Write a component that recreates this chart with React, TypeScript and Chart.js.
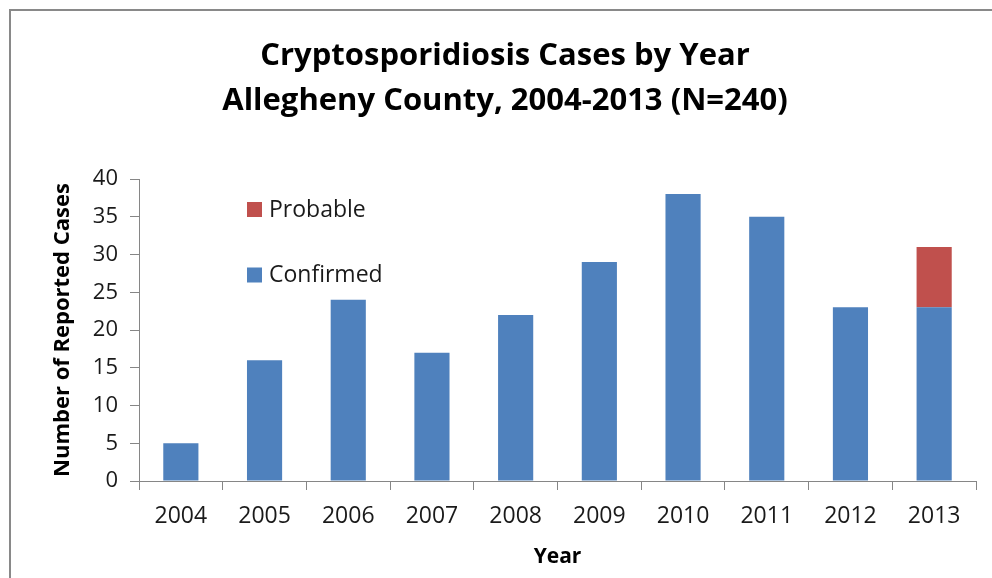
import React, { useEffect, useRef } from "react";
import { Chart, registerables } from "chart.js";

Chart.register(...registerables);

const years = ["2004", "2005", "2006", "2007", "2008", "2009", "2010", "2011", "2012", "2013"];
const confirmed = [5, 16, 24, 17, 22, 29, 38, 35, 23, 23];
const probable = [0, 0, 0, 0, 0, 0, 0, 0, 0, 8];
const titleLines = ["Cryptosporidiosis Cases by Year", "Allegheny County, 2004-2013 (N=240)"];
const yTitle = "Number of Reported Cases";
const xTitle = "Year";
const legendItems = [
  { label: "Probable", color: "#c0504d" },
  { label: "Confirmed", color: "#4f81bd" },
];

const FONT = "'Open Sans', 'Liberation Sans', sans-serif";
const TEXT = "#1a1a1a";
const AXIS = "#868686";

const titlePlugin = {
  id: "offsetTitle",
  afterDraw(chart: any) {
    const { ctx } = chart;
    ctx.save();
    ctx.font = `bold 31px ${FONT}`;
    ctx.fillStyle = "#000";
    ctx.textAlign = "center";
    ctx.textBaseline = "middle";
    titleLines.forEach((line, i) => {
      ctx.fillText(line, 505, 56.5 + i * 45);
    });
    ctx.restore();
  },
};

const legendPlugin = {
  id: "insideLegend",
  afterDraw(chart: any) {
    const { ctx, chartArea } = chart;
    ctx.save();
    ctx.font = `23px ${FONT}`;
    ctx.textBaseline = "middle";
    ctx.textAlign = "left";
    legendItems.forEach((item, i) => {
      const x = chartArea.left + 108;
      const y = chartArea.top + 30 + i * 65.5;
      ctx.fillStyle = item.color;
      ctx.fillRect(x, y - 7, 15, 15);
      ctx.fillStyle = TEXT;
      ctx.fillText(item.label, x + 22, y + 1);
    });
    ctx.restore();
  },
};

export default function App() {
  const ref = useRef<HTMLCanvasElement>(null);
  useEffect(() => {
    if (!ref.current) return;
    const chart = new Chart(ref.current, {
      type: "bar",
      data: {
        labels: years,
        datasets: [
          {
            label: "Confirmed",
            data: confirmed,
            backgroundColor: "#4f81bd",
            barPercentage: 0.42,
            categoryPercentage: 1,
          },
          {
            label: "Probable",
            data: probable,
            backgroundColor: "#c0504d",
            barPercentage: 0.42,
            categoryPercentage: 1,
          },
        ],
      },
      options: {
        responsive: false,
        animation: false,
        layout: { padding: { left: 18, right: 16, top: 179, bottom: 0 } },
        plugins: {
          legend: { display: false },
          tooltip: { enabled: false },
          title: { display: false },
        },
        scales: {
          x: {
            stacked: true,
            grid: {
              display: true,
              drawOnChartArea: false,
              drawTicks: true,
              tickLength: 9,
              color: AXIS,
              offset: true,
            },
            border: { color: AXIS, width: 1 },
            ticks: {
              color: TEXT,
              font: { family: FONT, size: 23 },
              padding: 13,
              maxRotation: 0,
            },
            title: {
              display: true,
              text: xTitle,
              color: "#000",
              font: { family: FONT, size: 21, weight: "bold" },
              padding: { top: 0, bottom: 8 },
            },
            afterFit(scale: any) {
              scale.height = 97;
            },
          },
          y: {
            stacked: true,
            min: 0,
            max: 40,
            grid: {
              display: true,
              drawOnChartArea: false,
              drawTicks: true,
              tickLength: 9,
              color: AXIS,
            },
            border: { color: AXIS, width: 1 },
            ticks: {
              stepSize: 5,
              color: TEXT,
              font: { family: FONT, size: 22 },
              padding: 12,
            },
            title: {
              display: true,
              text: yTitle,
              color: "#000",
              font: { family: FONT, size: 22, weight: "bold" },
              padding: { top: 32, bottom: 0 },
            },
            afterFit(scale: any) {
              scale.width = 121;
            },
          },
        },
      },
      plugins: [titlePlugin, legendPlugin],
    });
    return () => chart.destroy();
  }, []);

  return (
    <div style={{ position: "fixed", left: 0, top: 0, width: 992, height: 578, overflow: "hidden", background: "#fff" }}>
      <div
        style={{
          position: "absolute",
          left: 9,
          top: 9,
          width: 1200,
          height: 800,
          border: "2px solid #898989",
        }}
      />
      <canvas ref={ref} width={992} height={578} style={{ position: "absolute", left: 0, top: 0, width: 992, height: 578 }} />
    </div>
  );
}
